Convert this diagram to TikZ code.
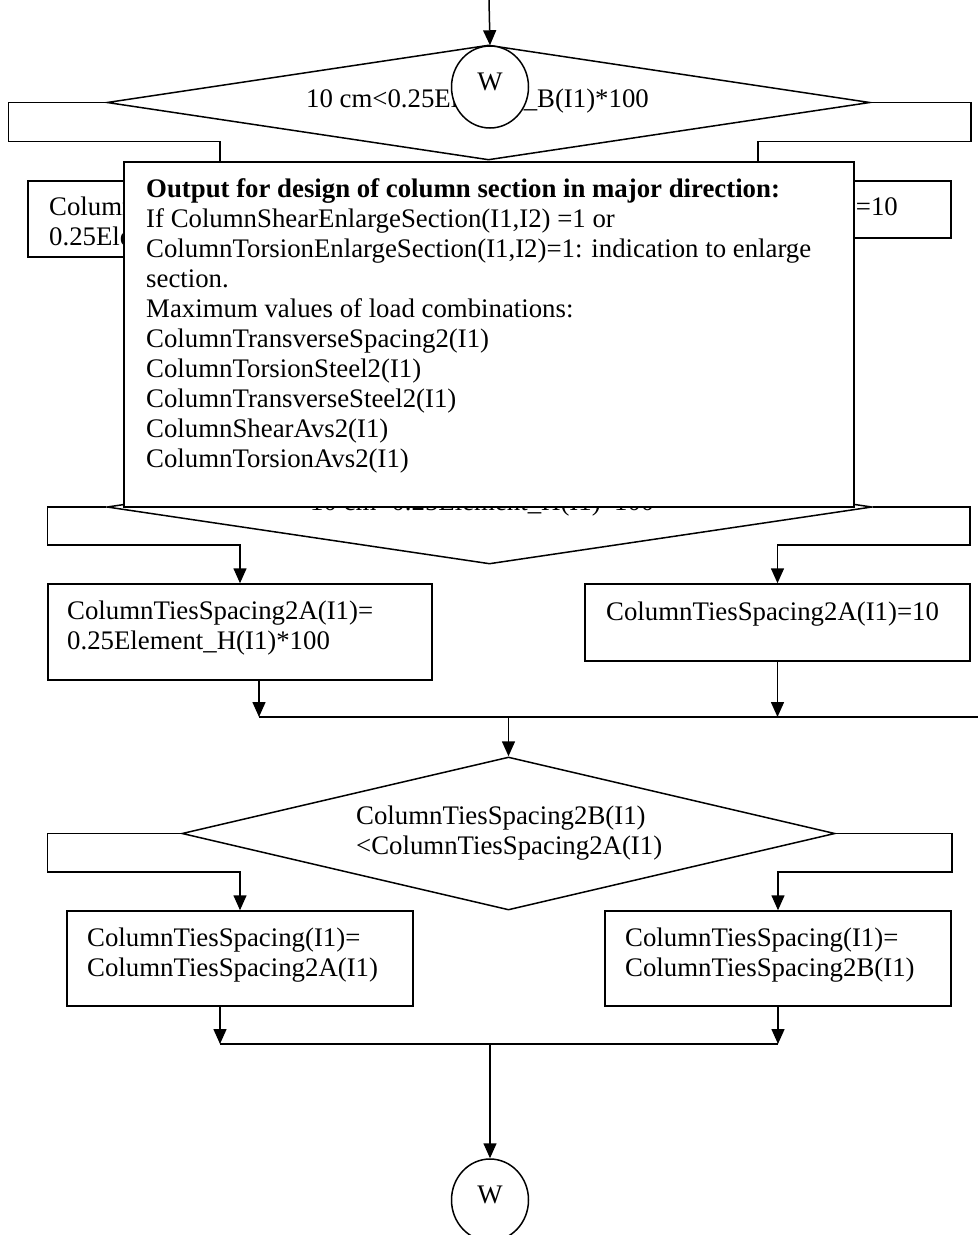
\documentclass[tikz,border=0pt]{standalone}
\usepackage{fontspec}
\setmainfont{Liberation Serif}
\usetikzlibrary{shapes.geometric,arrows.meta}
\begin{document}
\begin{tikzpicture}[x=1pt,y=-1pt,
  every node/.style={font=\fontsize{26.8}{30}\selectfont},
  ln/.style={line width=1.5pt},
  arr/.style={line width=1.5pt,-{Triangle[length=15pt,width=13pt]}},
  pbox/.style={draw,line width=1.5pt,rectangle,inner sep=0pt,fill=white},
  dia/.style={draw,line width=1.5pt,diamond,inner sep=0pt},
  conn/.style={draw,line width=1.5pt,ellipse,inner sep=0pt,fill=white,minimum width=77pt,minimum height=82pt},
  txt/.style={inner sep=0pt,align=left,anchor=north west},
  btxt/.style={inner sep=0pt,anchor=base west},
]
\clip (0,0) rectangle (978,1235);
\fill[white] (0,0) rectangle (978,1235);

% ---- first decision (hidden behind the output box) ----
\node[dia,minimum width=763pt,minimum height=115pt] (d1) at (488.5,102.5) {};
\node[btxt] (d1t) at (306,107) {10 cm<0.25Element\_B(I1)*100};
\node[pbox,minimum width=384pt,minimum height=76pt] (b1l) at (220,219) {};
\node[txt] (b1lt) at (49,194) {\strut ColumnTiesSpacing2B(I1)=\\0.25Element\_B(I1)*100};
\node[pbox,minimum width=401pt,minimum height=57pt] (b1r) at (750.5,209.5) {};
\node[inner sep=0pt,anchor=base east] (b1rt) at (898,215) {ColumnTiesSpacing2B(I1)=10};
\draw[arr] (d1.west) -- ++(-98,0) -- ++(0,39) -| (b1l.north);
\draw[arr] (d1.east) -- ++(100,0) -- ++(0,39) -| ([xshift=7.5pt]b1r.north);

% ---- second decision ----
\node[dia,minimum width=765pt,minimum height=114pt] (d2) at (489.5,507) {};
\node[btxt] (d2t) at (310,510) {10 cm<0.25Element\_H(I1)*100};
\node[pbox,minimum width=384pt,minimum height=96pt] (b2l) at (240,632) {};
\node[txt] (b2lt) at (67,598) {\strut ColumnTiesSpacing2A(I1)=\\0.25Element\_H(I1)*100};
\node[pbox,minimum width=385pt,minimum height=77pt] (b2r) at (777.5,622.5) {};
\node[btxt] (b2rt) at (606,620) {ColumnTiesSpacing2A(I1)=10};
\draw[arr] (d2.west) -- ++(-59,0) -- ++(0,38) -| (b2l.north);
\draw[arr] (d2.east) -- ++(97,0) -- ++(0,38) -| (b2r.north);

% ---- merge 1 ----
\coordinate (m2) at (508.5,717);
\coordinate (m2e) at (978,717);
\draw[arr] ([xshift=19pt]b2l.south) -- ([xshift=19pt]b2l.south |- m2);
\draw[arr] (b2r.south) -- (b2r.south |- m2);
\draw[ln] ([xshift=19pt]b2l.south |- m2) -- (m2e);

% ---- third decision ----
\node[dia,minimum width=653pt,minimum height=153pt] (d3) at (508.5,833.5) {};
\draw[arr] (m2) -- (d3.north);
\node[txt] (d3t) at (356,803) {\strut ColumnTiesSpacing2B(I1)\\<ColumnTiesSpacing2A(I1)};
\node[pbox,minimum width=346pt,minimum height=95pt] (b3l) at (240,958.5) {};
\node[txt] (b3lt) at (87,925) {\strut ColumnTiesSpacing(I1)=\\ColumnTiesSpacing2A(I1)};
\node[pbox,minimum width=346pt,minimum height=95pt] (b3r) at (778,958.5) {};
\node[txt] (b3rt) at (625,925) {\strut ColumnTiesSpacing(I1)=\\ColumnTiesSpacing2B(I1)};
\draw[arr] (d3.west) -- ++(-134,0) -- ++(0,38.5) -| (b3l.north);
\draw[arr] (d3.east) -- ++(116,0) -- ++(0,38.5) -| (b3r.north);

% ---- merge 2 ----
\coordinate (m3) at (490,1044);
\draw[arr] ([xshift=-20pt]b3l.south) -- ([xshift=-20pt]b3l.south |- m3);
\draw[arr] (b3r.south) -- (b3r.south |- m3);
\draw[ln] ([xshift=-20pt]b3l.south |- m3) -- (b3r.south |- m3);
\node[conn,label={[yshift=5pt]center:W}] (w2) at (490,1200) {};
\draw[arr] (m3) -- (w2.north);

% ---- output box on top ----
\node[pbox,minimum width=730pt,minimum height=345pt] (out) at (489,334.5) {};
\node[txt] (outt) at (146,176) {\strut\bfseries Output for design of column section in major direction:\\
If ColumnShearEnlargeSection(I1,I2) =1 or\\
ColumnTorsionEnlargeSection(I1,I2)=1: indication to enlarge\\
section.\\
Maximum values of load combinations:\\
ColumnTransverseSpacing2(I1)\\
ColumnTorsionSteel2(I1)\\
ColumnTransverseSteel2(I1)\\
ColumnShearAvs2(I1)\\
ColumnTorsionAvs2(I1)};

% ---- top connector circle ----
\coordinate (top) at (489,0);
\node[conn,label={[yshift=5pt]center:W}] (w1) at (490,87) {};
\draw[arr] (top) -- (w1.north);
\end{tikzpicture}
\end{document}
